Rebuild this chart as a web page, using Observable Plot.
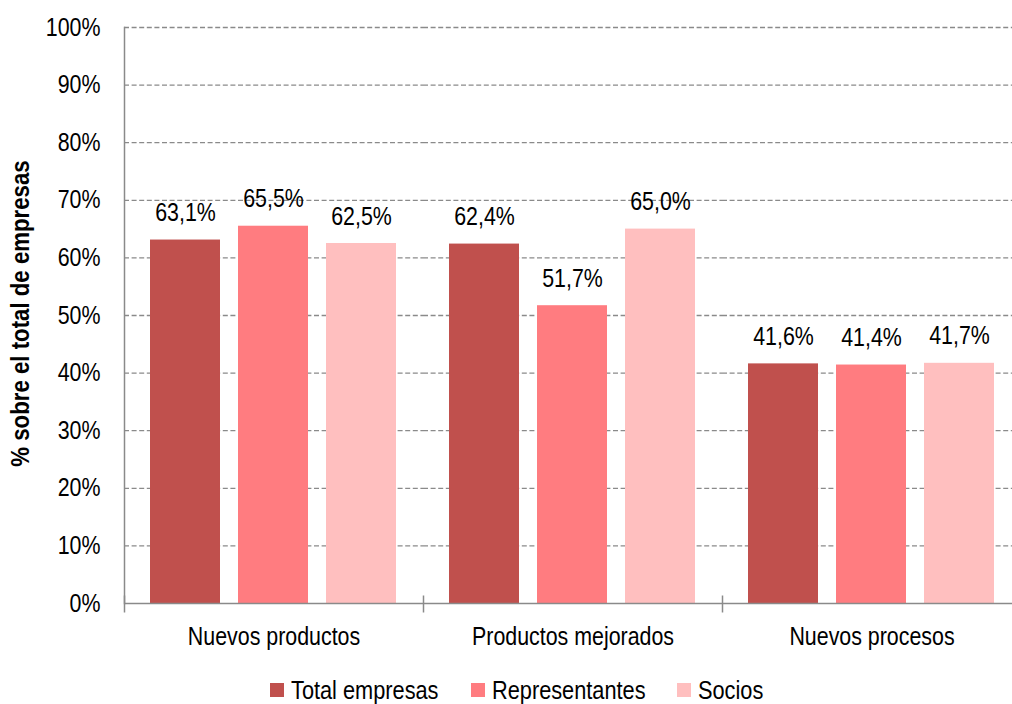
<!DOCTYPE html>
<html>
<head>
<meta charset="utf-8">
<script src="https://cdn.jsdelivr.net/npm/d3@7"></script>
<script src="https://cdn.jsdelivr.net/npm/@observablehq/plot@0.6"></script>
<style>
  html, body { margin: 0; padding: 0; background: #fff; }
  #wrap { width: 1012px; height: 704px; position: relative; overflow: hidden; font-family: 'Liberation Sans', Arial, sans-serif; }
  #legend { display: flex; justify-content: center; align-items: center; height: 34px; padding-top: 8px; font-size: 25px; color: #000; padding-left: 22px; }
  .item { display: flex; align-items: center; margin: 0 16px; }
  .sw { width: 14px; height: 14px; margin-right: 7px; flex: none; }
  .lt { display: inline-block; transform-origin: 0 50%; white-space: nowrap; }
</style>
</head>
<body>
<div id="wrap"></div>
<script>
const groups = ["Nuevos productos", "Productos mejorados", "Nuevos procesos"];
const series = ["Total empresas", "Representantes", "Socios"];
const totalEmpresas = [63.1, 62.4, 41.6];
const representantes = [65.5, 51.7, 41.4];
const socios = [62.5, 65.0, 41.7];
const colors = ["#C0504D", "#FF7C80", "#FFBFBF"];
const yTicks = [0, 10, 20, 30, 40, 50, 60, 70, 80, 90, 100];
const yTitle = "% sobre el total de empresas";

const seriesValues = [totalEmpresas, representantes, socios];
const data = [];
groups.forEach((g, i) => series.forEach((s, j) => data.push({group: g, series: s, value: seriesValues[j][i]})));

const font = "'Liberation Sans', Arial, sans-serif";
const squeeze = 0.855; // the reference uses a narrow typeface
const legendSqueeze = 0.87;
const fmt = v => v.toFixed(1).replace(".", ",") + "%";
const tickSymbol = { draw(ctx, size) { ctx.moveTo(0, -8); ctx.lineTo(0, 9); } };

const chart = Plot.plot({
  width: 1012,
  height: 665,
  marginLeft: 124,
  marginRight: 0,
  marginTop: 27,
  marginBottom: 62,
  style: { fontFamily: font, fontSize: "25px", color: "#000", background: "#fff" },
  fx: { domain: groups, padding: 0, range: [124, 1021], axis: null },
  x: { domain: series, paddingInner: 0.2045, paddingOuter: 0.301, axis: null },
  y: { domain: [0, 100], axis: null },
  color: { domain: series, range: colors },
  marks: [
    Plot.gridY(yTicks.filter(d => d > 0), { stroke: "#8a8a8a", strokeOpacity: 1, strokeWidth: 1.3, strokeDasharray: "5,2.6" }),
    Plot.barY(data, { fx: "group", x: "series", y: "value", fill: "series" }),
    Plot.ruleY([0], { stroke: "#8a8a8a", strokeWidth: 1.5 }),
    Plot.frame({ anchor: "left", stroke: "#8a8a8a", strokeWidth: 1.5, fx: [groups[0]] }),
    Plot.dot(groups, { fx: d => d, frameAnchor: "bottom-left", symbol: tickSymbol, stroke: "#8a8a8a", strokeWidth: 1.5, r: 5 }),
    Plot.axisY(yTicks, { tickFormat: d => d + "%", tickSize: 0, tickPadding: 24, label: null, fontSize: 25 }),
    Plot.axisFx({ anchor: "bottom", tickSize: 0, tickPadding: 24, label: null, fontSize: 25 }),
    Plot.text(data, { fx: "group", x: "series", y: "value", text: d => fmt(d.value), dy: -27, fontSize: 25, fill: "#000" }),
    Plot.text([{ g: groups[0], t: yTitle }], { fx: "g", text: "t", frameAnchor: "left", textAnchor: "middle", rotate: -90, dx: -104, dy: -2, fontWeight: "bold", fontSize: 26, fill: "#000" })
  ]
});

const wrap = document.getElementById("wrap");
wrap.appendChild(chart);

// compress glyphs horizontally to imitate the narrow font of the reference
chart.querySelectorAll("text").forEach(el => {
  const L = el.getComputedTextLength();
  if (L > 0) {
    el.setAttribute("textLength", (L * squeeze).toFixed(2));
    el.setAttribute("lengthAdjust", "spacingAndGlyphs");
  }
});

const legend = document.createElement("div");
legend.id = "legend";
series.forEach((s, i) => {
  const it = document.createElement("div");
  it.className = "item";
  const sw = document.createElement("span");
  sw.className = "sw";
  sw.style.background = colors[i];
  const t = document.createElement("span");
  t.className = "lt";
  t.textContent = s;
  it.appendChild(sw); it.appendChild(t);
  legend.appendChild(it);
});
wrap.appendChild(legend);
legend.querySelectorAll(".lt").forEach(t => {
  const w = t.getBoundingClientRect().width;
  t.style.transform = `scaleX(${legendSqueeze})`;
  t.style.marginRight = `${-(1 - legendSqueeze) * w}px`;
});
</script>
</body>
</html>
